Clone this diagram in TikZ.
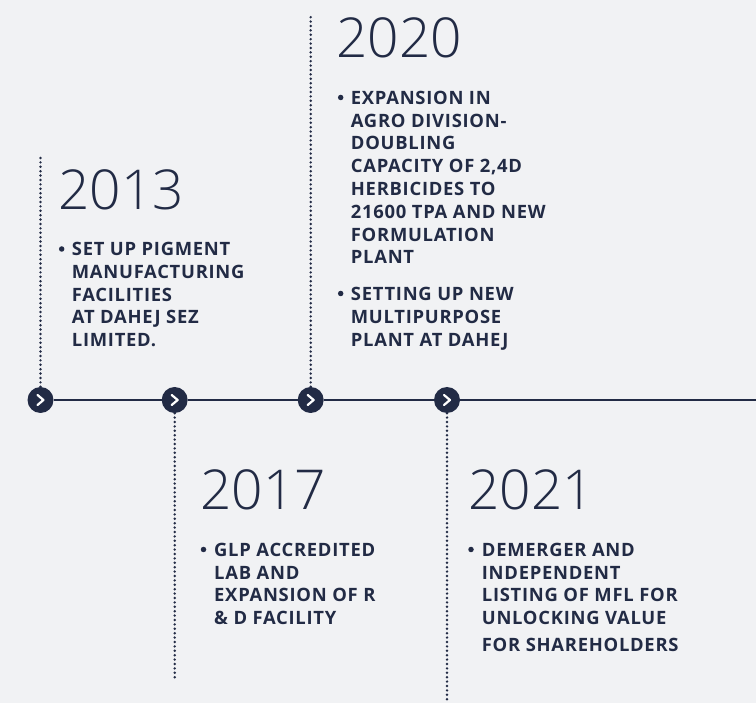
\documentclass[tikz,border=0pt]{standalone}
\usepackage{fontspec}
\setmainfont{Open Sans}
\newfontfamily\yearfont{Open Sans Light}
\newfontfamily\itemfont{Open Sans}[LetterSpace=4]
\definecolor{navy}{HTML}{222B45}
\definecolor{paper}{HTML}{F1F2F4}

\begin{document}
\begin{tikzpicture}[x=1pt,y=-1pt,
    year/.style={anchor=base west,inner sep=0,text=navy,
      font=\yearfont\fontsize{55}{55}\selectfont},
    item/.style={anchor=north west,inner sep=0,align=left,text=navy,
      font=\itemfont\bfseries\fontsize{18.4}{22.8}\selectfont},
    bullet/.style={circle,fill=navy,inner sep=0,minimum size=5.5pt},
    stop/.style={circle,fill=navy,minimum size=26pt,inner sep=0,
      path picture={\draw[white,line width=2.2pt,line cap=round,line join=round]
        ([xshift=-3pt,yshift=5pt]path picture bounding box.center)
        -- ++(6pt,-5pt) -- ++(-6pt,-5pt);}},
    guide/.style={navy,line width=2.7pt,line cap=round,dash pattern=on 0pt off 4.4pt}]
  \fill[paper] (0,0) rectangle (756,703);
  \useasboundingbox (0,0) rectangle (756,703);

  % axis
  \coordinate (end) at (756,400);
  \node[stop] (s1) at (40.5,400) {};
  \node[stop] (s2) at (174.7,400) {};
  \node[stop] (s3) at (310.7,400) {};
  \node[stop] (s4) at (447,400) {};
  \draw[navy,line width=2.6pt] (s1) -- (s2) -- (s3) -- (s4) -- (end);

  % 2013
  \coordinate (g1) at (40.5,155);
  \draw[guide] (s1) -- (g1);
  \node[year] (y2013) at (58,210) {2013};
  \node[bullet] (b2013) at (61.7,249) {};
  \node[item] (t2013) at (71.7,242) {SET UP PIGMENT\\MANUFACTURING\\FACILITIES\\AT DAHEJ SEZ\\LIMITED.};

  % 2017
  \coordinate (g2) at (174.7,680);
  \draw[guide] (s2) -- (g2);
  \node[year] (y2017) at (200,510) {2017};
  \node[bullet] (b2017) at (203.5,549.5) {};
  \node[item] (t2017) at (214,542.7) {GLP ACCREDITED\\LAB AND\\EXPANSION OF R\\\& D FACILITY};

  % 2020
  \coordinate (g3) at (310.7,14);
  \draw[guide] (s3) -- (g3);
  \node[year] (y2020) at (336,58) {2020};
  \node[bullet] (b2020a) at (340.7,97.5) {};
  \node[item] (t2020a) at (350.7,90.7) {EXPANSION IN\\AGRO DIVISION-\\DOUBLING\\CAPACITY OF 2,4D\\HERBICIDES TO\\21600 TPA AND NEW\\FORMULATION\\PLANT};
  \node[bullet] (b2020b) at (340.7,293.5) {};
  \node[item] (t2020b) at (350.7,287) {SETTING UP NEW\\MULTIPURPOSE\\PLANT AT DAHEJ};

  % 2021
  \coordinate (g4) at (447,703);
  \draw[guide] (s4) -- (g4);
  \node[year] (y2021) at (468,510) {2021};
  \node[bullet] (b2021) at (471,549.5) {};
  \node[item] (t2021) at (481.7,542.7) {DEMERGER AND\\INDEPENDENT\\LISTING OF MFL FOR\\UNLOCKING VALUE\\[4pt]FOR SHAREHOLDERS};
\end{tikzpicture}
\end{document}
